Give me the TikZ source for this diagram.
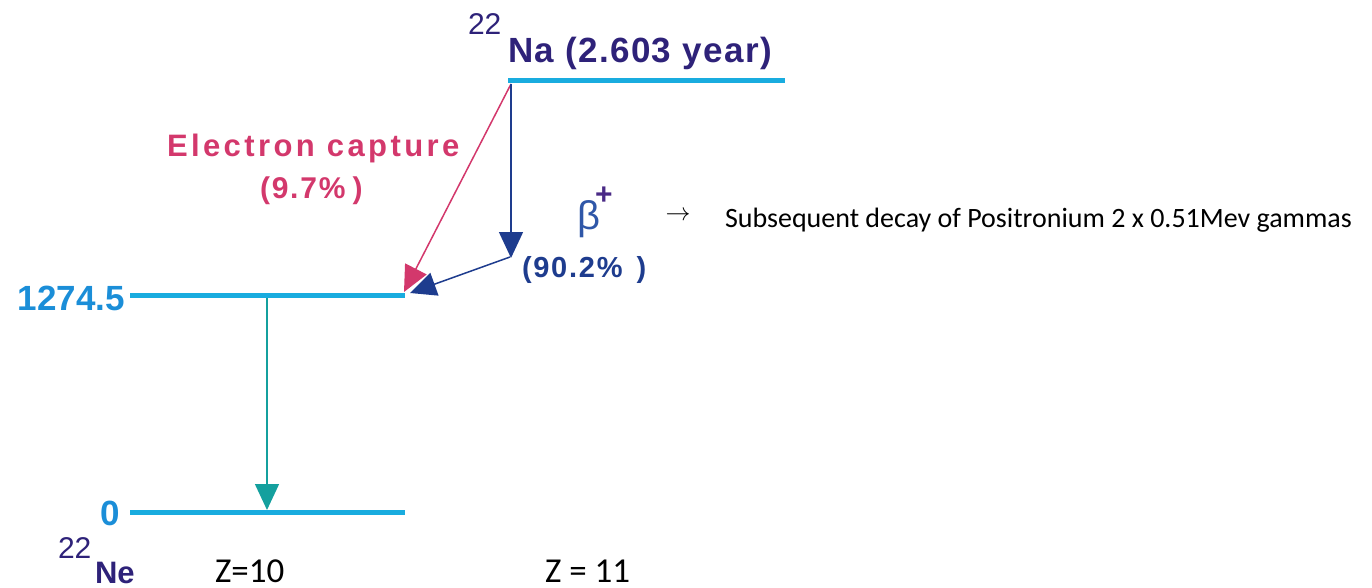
\documentclass[tikz,border=0pt]{standalone}
\usepackage{fontspec}
\setmainfont{Liberation Sans}
\newfontfamily\labA[LetterSpace=4]{Liberation Sans}
\newfontfamily\labB[LetterSpace=11]{Liberation Sans}
\newfontfamily\labC[LetterSpace=6]{Liberation Sans}
\newfontfamily\calfont{Carlito}
\usetikzlibrary{arrows.meta}
\definecolor{lvlc}{HTML}{19ACDF}
\definecolor{numc}{HTML}{1B8ED8}
\definecolor{nucc}{HTML}{2E2279}
\definecolor{ecc}{HTML}{D3386C}
\definecolor{betac}{HTML}{1E3C8E}
\definecolor{betaletter}{HTML}{2F57A8}
\definecolor{plusc}{HTML}{4A2A86}
\definecolor{gamc}{HTML}{14A09E}
\tikzset{
  lvl/.style={line width=5pt, draw=lvlc},
  txt/.style={inner sep=0pt, outer sep=0pt},
  tri/.style={-{Triangle[width=24pt,length=26pt]}},
  ecarrow/.style={tri, line width=1.5pt, draw=ecc, fill=ecc},
  betaarrow/.style={tri, line width=1.5pt, draw=betac, fill=betac},
  gamarrow/.style={tri, line width=1.5pt, draw=gamc, fill=gamc},
}
\begin{document}
\begin{tikzpicture}[x=1pt,y=-1pt]
\useasboundingbox (0,0) rectangle (1372,588);
% level coordinates
\coordinate (naL) at (508,81);
\coordinate (naR) at (785,81);
\coordinate (l1L) at (130,295);
\coordinate (l1R) at (405,295);
\coordinate (l0L) at (130,512);
\coordinate (l0R) at (405,512);
\coordinate (ecEnd) at (404,292);
\coordinate (bTop) at (511,84);
\coordinate (bBot) at (511,258);
\coordinate (bStart) at (510,257);
\coordinate (bEnd) at (410,293);
\coordinate (gTop) at (267,298);
\coordinate (gBot) at (267,510);
% levels
\draw[lvl] (naL) -- (naR);
\draw[lvl] (l1L) -- (l1R);
\draw[lvl] (l0L) -- (l0R);
% arrows
\draw[ecarrow] (bTop) -- (ecEnd);
\draw[betaarrow] (bTop) -- (bBot);
\draw[betaarrow] (bStart) -- (bEnd);
\draw[gamarrow] (gTop) -- (gBot);
% labels
\node[txt, anchor=base west, text=nucc] (na22) at (468,35) {\fontsize{30}{30}\selectfont 22};
\node[txt, anchor=base west, text=nucc] (na) at (508,63) {\fontsize{35}{35}\selectfont\labA\bfseries Na (2.603 year)};
\node[txt, anchor=base west, text=ecc] (ec) at (167,157) {\fontsize{31}{31}\selectfont\labB\bfseries Electron capture};
\node[txt, anchor=base west, text=ecc] (ecp) at (260,198) {\fontsize{30}{30}\selectfont\labC\bfseries (9.7\%\hspace{7pt})};
\node[txt, anchor=base west, text=betaletter] (beta) at (577,229) {\fontsize{40}{40}\selectfont β};
\node[txt, anchor=center, text=plusc] (plus) at (604,196) {\fontsize{30}{30}\selectfont\bfseries +};
\node[txt, anchor=base west, text=betac] (bp) at (522,277) {\fontsize{29}{29}\selectfont\labC\bfseries (90.2\%\hspace{14pt})};
\node[txt, anchor=base east, text=numc] (e1) at (125,310) {\fontsize{35}{35}\selectfont\bfseries 1274.5};
\node[txt, anchor=base east, text=numc] (e0) at (120,525) {\fontsize{35}{35}\selectfont\bfseries 0};
\node[txt, anchor=base west, text=nucc] (ne22) at (58,558) {\fontsize{30}{30}\selectfont 22};
\node[txt, anchor=base west, text=nucc] (ne) at (95,583) {\fontsize{31}{31}\selectfont\bfseries Ne};
\node[txt, anchor=base west] (z10) at (215,582) {\fontsize{35}{35}\selectfont\calfont Z=10};
\node[txt, anchor=base west] (z11) at (545,582) {\fontsize{35}{35}\selectfont\calfont Z = 11};
\node[txt, anchor=center] (arr) at (678,216) {\fontsize{27}{27}\selectfont$\rightarrow$};
\node[txt, anchor=base west] (note) at (725,227) {\fontsize{28}{28}\selectfont\calfont Subsequent decay of Positronium 2 x 0.51Mev gammas};
\end{tikzpicture}
\end{document}
